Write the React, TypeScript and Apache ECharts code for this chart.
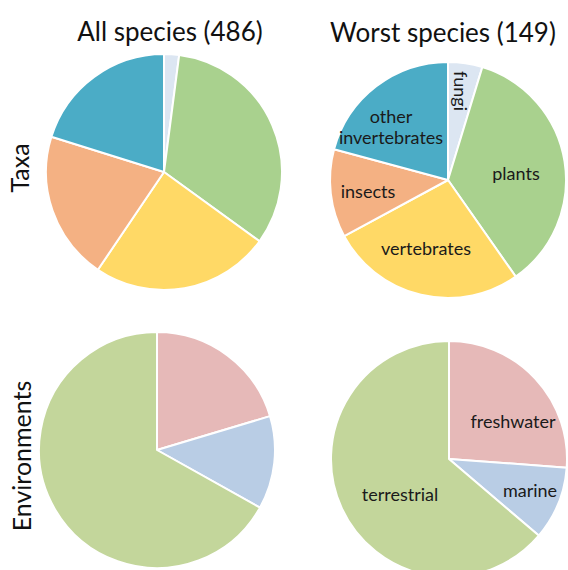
import React, { useEffect, useRef } from "react";
import * as echarts from "echarts";

const taxaNames = ["fungi", "plants", "vertebrates", "insects", "other invertebrates"];
const taxaColors = ["#dce6f2", "#a9d18e", "#ffd966", "#f4b183", "#4bacc6"];
const taxaAll = [10, 160, 119, 99, 98];
const taxaWorst = [7, 53, 40, 18, 31];

const envNames = ["freshwater", "marine", "terrestrial"];
const envColors = ["#e6b9b8", "#b9cde5", "#c3d69b"];
const envAll = [99, 62, 325];
const envWorst = [39, 15, 95];

const colTitles = ["All species (486)", "Worst species (149)"];
const rowTitles = ["Taxa", "Environments"];

const FONT = "Lato, 'Open Sans', sans-serif";

function makeData(names: string[], values: number[], colors: string[]) {
  return names.map((n, i) => ({ name: n, value: values[i], itemStyle: { color: colors[i] } }));
}

function pie(center: [number, number], data: any[]) {
  return {
    type: "pie",
    center,
    radius: 118,
    startAngle: 90,
    clockwise: true,
    z: 2,
    label: { show: false },
    labelLine: { show: false },
    emphasis: { disabled: true },
    itemStyle: { borderColor: "#ffffff", borderWidth: 2 },
    data,
  };
}

export default function App() {
  const ref = useRef<HTMLDivElement>(null);
  useEffect(() => {
    const chart = echarts.init(ref.current!, undefined, { renderer: "svg" });
    const lbl = (text: string, x: number, y: number, rotation = 0) => ({
      type: "text",
      x,
      y,
      rotation,
      z: 100,
      zlevel: 1,
      style: {
        text,
        fill: "#1a1a1a",
        font: `18px ${FONT}`,
        textAlign: "center",
        textVerticalAlign: "middle",
        lineHeight: 21,
      },
    });
    const title = (text: string, x: number, y: number, size: number, rotation = 0) => ({
      type: "text",
      x,
      y,
      rotation,
      z: 100,
      zlevel: 1,
      style: { text, fill: "#111", font: `${size}px ${FONT}`, textAlign: "center", textVerticalAlign: "middle" },
    });
    chart.setOption({
      animation: false,
      backgroundColor: "#ffffff",
      series: [
        pie([164, 172], makeData(taxaNames, taxaAll, taxaColors)),
        pie([448, 180], makeData(taxaNames, taxaWorst, taxaColors)),
        pie([157, 450], makeData(envNames, envAll, envColors)),
        pie([449, 459], makeData(envNames, envWorst, envColors)),
      ],
      graphic: [
        title(colTitles[0], 170, 31, 26),
        title(colTitles[1], 443, 32, 26),
        title(rowTitles[0], 19, 168, 25, Math.PI / 2),
        title(rowTitles[1], 21, 456, 25, Math.PI / 2),
        lbl("fungi", 461, 91, -Math.PI / 2),
        lbl("other\ninvertebrates", 391, 126),
        lbl("plants", 516, 173),
        lbl("insects", 368, 191),
        lbl("vertebrates", 426, 248),
        lbl("freshwater", 513, 421),
        lbl("marine", 530, 490),
        lbl("terrestrial", 400, 494),
      ],
    });
    return () => chart.dispose();
  }, []);
  return (
    <div
      ref={ref}
      style={{ position: "fixed", left: 0, top: 0, width: 568, height: 570 }}
    />
  );
}
